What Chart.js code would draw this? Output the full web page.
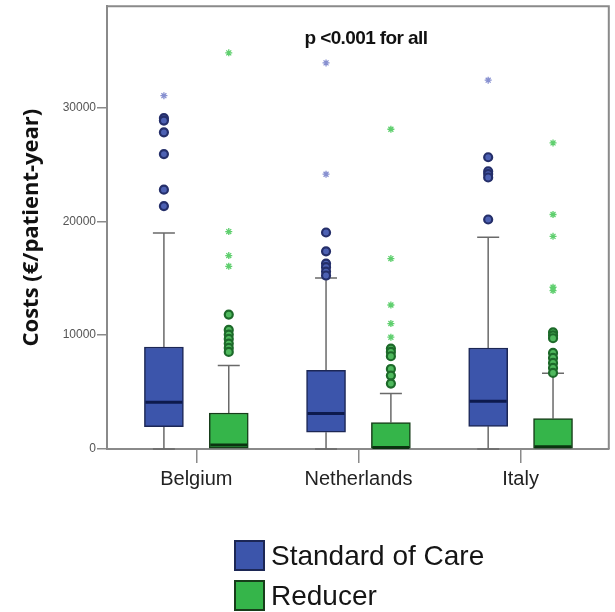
<!DOCTYPE html>
<html>
<head>
<meta charset="utf-8">
<title>Costs per patient-year</title>
<script src="https://cdn.jsdelivr.net/npm/chart.js@4/dist/chart.umd.min.js"></script>
<style>
  html, body { margin: 0; padding: 0; background: #fff; }
  #wrap { position: relative; width: 615px; height: 612px; }
  #chart { position: absolute; left: 0; top: 0; }
  #legend {
    position: absolute; left: 234px; top: 540px;
    font-family: "Liberation Sans", Arial, sans-serif;
    font-size: 28px; color: #151515;
  }
  #legend .item { display: flex; align-items: center; height: 30px; margin-bottom: 10px; }
  #legend .sw { width: 27px; height: 27px; border: 2px solid; margin-right: 6px; flex: none; }
  #legend .txt { position: relative; top: 1px; white-space: nowrap; }
</style>
</head>
<body>
<div id="wrap">
  <canvas id="chart" width="615" height="612"></canvas>
  <div id="legend"></div>
</div>
<script>
// Countries and series
const categories = ['Belgium', 'Netherlands', 'Italy'];
const seriesNames = ['Standard of Care', 'Reducer'];
const yTicks = [0, 10000, 20000, 30000];

// Standard of Care: box-plot summary per country (€/patient-year)
const socWhiskerLow  = [0, 0, 0];
const socQ1          = [1970, 1470, 1990];
const socMedian      = [4100, 3110, 4190];
const socQ3          = [8960, 6915, 8870];
const socWhiskerHigh = [18970, 15030, 18600];
const socOutliers = [
  [29070, 28850, 27820, 25910, 22780, 21340],
  [19020, 17370, 16290, 15970, 15590, 15240],
  [25630, 24400, 24150, 23850, 20160]
];
const socExtremes = [
  [31040],
  [33920, 24140],
  [32400]
];

// Reducer: box-plot summary per country (€/patient-year)
const redWhiskerLow  = [0, 0, 0];
const redQ1          = [0, 0, 0];
const redMedian      = [350, 100, 200];
const redQ3          = [3160, 2320, 2670];
const redWhiskerHigh = [7330, 4870, 6650];
const redOutliers = [
  [11810, 10460, 10050, 9670, 9260, 8880, 8530],
  [8820, 8530, 8150, 7030, 6450, 5750],
  [10250, 9990, 9730, 8440, 8000, 7560, 7120, 6680]
];
const redExtremes = [
  [34800, 19100, 16990, 16050],
  [28090, 16730, 12650, 11020, 9820],
  [26890, 20600, 18680, 14210, 13920]
];

const annotationText = 'p <0.001 for all';

// ---- styling ----
const GROUP_OFFSET = 0.2;   // distance of each box from its country tick (x units)
const BLUE = '#3c55ab', BLUE_EDGE = '#1c2755', BLUE_MED = '#0d1a4d';
const GREEN = '#35b54a', GREEN_EDGE = '#173d1a', GREEN_MED = '#0b3310';
const AXIS = '#8a8a8a';

const series = [
  { name: seriesNames[0], shift: -GROUP_OFFSET, lo: socWhiskerLow, q1: socQ1, med: socMedian, q3: socQ3, hi: socWhiskerHigh,
    out: socOutliers, ext: socExtremes, fill: BLUE, edge: BLUE_EDGE, medColor: BLUE_MED,
    outFill: '#4d61b3', outEdge: '#252f6a', starColor: '#8790d0' },
  { name: seriesNames[1], shift: GROUP_OFFSET, lo: redWhiskerLow, q1: redQ1, med: redMedian, q3: redQ3, hi: redWhiskerHigh,
    out: redOutliers, ext: redExtremes, fill: GREEN, edge: GREEN_EDGE, medColor: GREEN_MED,
    outFill: '#4fb95d', outEdge: '#1d6a2a', starColor: '#5fcf6e' }
];

const boxDatasets = series.map(s => ({
  type: 'bar',
  label: s.name,
  data: categories.map((c, i) => ({ x: i + 1 + s.shift, y: [s.q1[i], s.q3[i]] })),
  backgroundColor: s.fill,
  borderColor: s.edge,
  borderWidth: 1.5,
  borderSkipped: false,
  barThickness: 39,
  grouped: false,
  order: 2
}));

const outlierDatasets = series.flatMap(s => ([
  {
    type: 'scatter',
    label: s.name + ' outliers',
    data: categories.flatMap((c, i) => s.out[i].map(v => ({ x: i + 1 + s.shift, y: v }))),
    pointStyle: 'circle', pointRadius: 4, pointBorderWidth: 2.2,
    backgroundColor: s.outFill, borderColor: s.outEdge, order: 1
  },
  {
    type: 'scatter',
    label: s.name + ' extremes',
    data: categories.flatMap((c, i) => s.ext[i].map(v => ({ x: i + 1 + s.shift, y: v }))),
    pointStyle: 'star', pointRadius: 3.5, pointBorderWidth: 1.3,
    backgroundColor: s.starColor, borderColor: s.starColor, order: 1
  }
]));

// Whiskers behind the boxes, medians on top, plus the plot frame
const boxPlotPlugin = {
  id: 'boxPlot',
  beforeDatasetsDraw(chart) {
    const { ctx, scales: { x, y }, chartArea: a } = chart;
    ctx.save();
    ctx.strokeStyle = '#6a6a6a';
    ctx.lineWidth = 1.5;
    const cap = 11;
    series.forEach(s => {
      categories.forEach((c, i) => {
        const px = x.getPixelForValue(i + 1 + s.shift);
        ctx.beginPath();
        ctx.moveTo(px, y.getPixelForValue(s.q3[i]));
        ctx.lineTo(px, y.getPixelForValue(s.hi[i]));
        ctx.moveTo(px - cap, y.getPixelForValue(s.hi[i]));
        ctx.lineTo(px + cap, y.getPixelForValue(s.hi[i]));
        if (s.q1[i] > s.lo[i]) {
          ctx.moveTo(px, y.getPixelForValue(s.q1[i]));
          ctx.lineTo(px, y.getPixelForValue(s.lo[i]));
          ctx.moveTo(px - cap, y.getPixelForValue(s.lo[i]));
          ctx.lineTo(px + cap, y.getPixelForValue(s.lo[i]));
        }
        ctx.stroke();
      });
    });
    // top and right edges of the frame
    ctx.strokeStyle = AXIS;
    ctx.lineWidth = 2;
    ctx.beginPath();
    ctx.moveTo(a.left, a.top);
    ctx.lineTo(a.right, a.top);
    ctx.lineTo(a.right, a.bottom);
    ctx.stroke();
    ctx.restore();
  },
  afterDatasetsDraw(chart) {
    const { ctx, scales: { x, y }, chartArea: a } = chart;
    ctx.save();
    ctx.lineWidth = 3;
    series.forEach(s => {
      ctx.strokeStyle = s.medColor;
      categories.forEach((c, i) => {
        const px = x.getPixelForValue(i + 1 + s.shift);
        const py = Math.min(y.getPixelForValue(s.med[i]), a.bottom - 1.5);
        ctx.beginPath();
        ctx.moveTo(px - 18.5, py);
        ctx.lineTo(px + 18.5, py);
        ctx.stroke();
      });
    });
    // significance note
    ctx.fillStyle = '#111';
    ctx.font = 'bold 19px "Liberation Sans", Arial, sans-serif';
    if ('letterSpacing' in ctx) ctx.letterSpacing = '-0.6px';
    ctx.textAlign = 'center';
    ctx.textBaseline = 'middle';
    ctx.fillText(annotationText, a.left + a.width * 0.516, a.top + 33);
    ctx.restore();
  }
};

const chart = new Chart(document.getElementById('chart'), {
  data: { datasets: [...boxDatasets, ...outlierDatasets] },
  options: {
    responsive: false,
    animation: false,
    layout: { padding: { left: 15, top: 5, right: 6, bottom: 117 } },
    plugins: { legend: { display: false }, tooltip: { enabled: false } },
    scales: {
      x: {
        type: 'linear',
        offset: false,
        min: 0.449, max: 3.544,
        afterBuildTicks: s => { s.ticks = categories.map((c, i) => ({ value: i + 1 })); },
        ticks: {
          callback: (v, i) => categories[i],
          font: { family: '"Liberation Sans", Arial, sans-serif', size: 20 },
          color: '#222', padding: 4, autoSkip: false, maxRotation: 0
        },
        grid: { offset: false, drawOnChartArea: false, tickLength: 14, color: AXIS, lineWidth: 1.5 },
        border: { color: AXIS, width: 2 }
      },
      y: {
        min: 0, max: 38900,
        afterBuildTicks: s => { s.ticks = yTicks.map(v => ({ value: v })); },
        afterFit: s => { s.width = 92; },
        ticks: {
          callback: v => String(v),
          font: { family: '"Liberation Sans", Arial, sans-serif', size: 12, lineHeight: 0.8 },
          color: '#555', padding: 1
        },
        grid: { drawOnChartArea: false, tickLength: 10, color: AXIS, lineWidth: 1.5 },
        border: { color: AXIS, width: 2 },
        title: {
          display: true, text: 'Costs (€/patient-year)',
          font: { family: '"Open Sans", sans-serif', weight: 'bold', size: 22 },
          color: '#111'
        }
      }
    }
  },
  plugins: [boxPlotPlugin]
});

// Legend built from the box datasets
const legendEl = document.getElementById('legend');
boxDatasets.forEach(ds => {
  const item = document.createElement('div');
  item.className = 'item';
  const sw = document.createElement('span');
  sw.className = 'sw';
  sw.style.background = ds.backgroundColor;
  sw.style.borderColor = ds.borderColor;
  const txt = document.createElement('span');
  txt.className = 'txt';
  txt.textContent = ds.label;
  item.append(sw, txt);
  legendEl.appendChild(item);
});
</script>
</body>
</html>
